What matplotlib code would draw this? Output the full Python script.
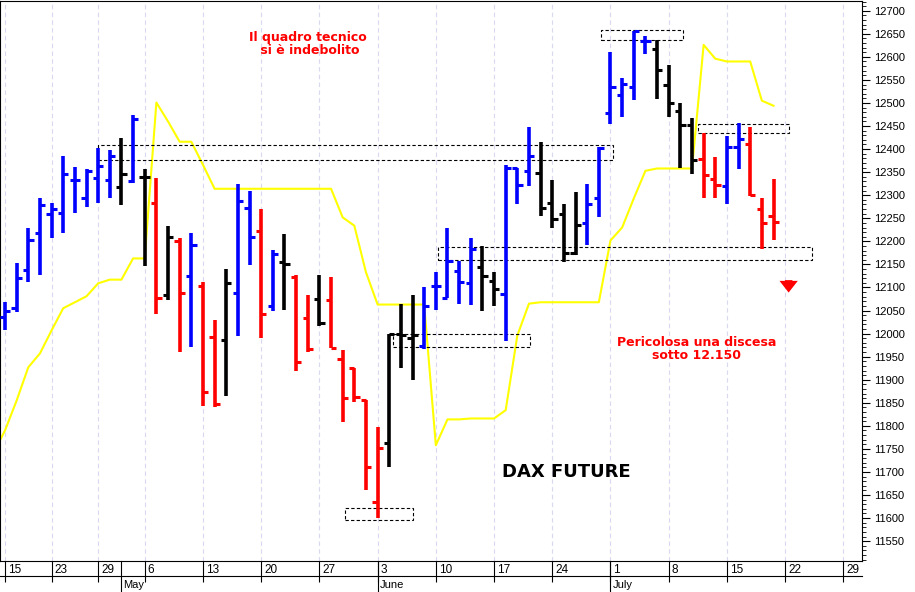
import matplotlib
matplotlib.use("Agg")
import matplotlib.pyplot as plt
import matplotlib.transforms as mtransforms
from matplotlib.patches import Rectangle
from matplotlib.ticker import MultipleLocator

plt.rcParams['font.family'] = ['Liberation Sans', 'DejaVu Sans']

highs = [12068,12152,12228,12295,12284,12386,12362,12356,12403,12399,
         12425,12475,12356,12338,12234,12208,12219,12111,12029,12141,
         12325,12310,12271,12182,12217,12126,12083,12126,12122,11964,
         11925,11855,11797,12000,12065,12083,12102,12133,12230,12158,
         12208,12189,12133,12366,12360,12447,12416,12334,12280,12308,
         12325,12405,12611,12555,12655,12646,12637,12583,12499,12468,
         12434,12382,12429,12457,12449,12295,12336]
lows = [12007,12046,12111,12126,12208,12219,12262,12275,12284,12295,
        12278,12327,12146,12042,12072,11961,11970,11844,11840,11864,
        11994,12148,11990,12048,12052,11920,11961,12016,11968,11808,
        11851,11660,11600,11710,11925,11899,11966,12052,12078,12065,
        12063,12048,12059,11985,12282,12321,12256,12230,12156,12171,
        12193,12252,12455,12470,12507,12607,12509,12470,12358,12345,
        12295,12293,12282,12356,12299,12184,12202]
opens = [12035,12055,12137,12219,12260,12262,12334,12295,12338,12332,
         12317,12330,12340,12284,12083,12200,12124,12104,11992,11987,
         12087,12273,12223,12059,12156,12122,12033,12076,12072,11946,
         11925,11855,11634,11762,12000,11990,11974,12104,12078,12135,
         12109,12145,12113,12085,12360,12353,12349,12284,12260,12174,
         12239,12293,12479,12518,12535,12635,12618,12538,12483,12453,
         12379,12336,12321,12405,12410,12271,12256]
closes = [12050,12120,12202,12278,12271,12347,12334,12353,12364,12386,
          12347,12466,12340,12078,12210,12089,12193,11873,11847,12109,
          12288,12210,12042,12172,12150,11938,11966,12022,11968,11860,
          11862,11710,11751,12000,11996,11996,12059,12104,12158,12111,
          12184,12124,12096,12360,12323,12386,12273,12249,12174,12236,
          12282,12403,12535,12542,12655,12635,12572,12501,12453,12377,
          12343,12323,12405,12423,12301,12239,12243]
colors = list("bbbbbbbbbbkbkrkrbrrkbbrbkrrkrrrrrkkkbbbbbkkbbbkkkkbbbbbbkkkkrrbbrrr")
yellow_x = [-0.43] + list(range(67))
yellow = [11769,11790,11855,11927,11957,12007,12055,12068,12081,12109,12117,
          12117,12163,12163,12501,12460,12416,12416,12366,12314,12314,
          12314,12314,12314,12314,12314,12314,12314,12314,12314,12252,12234,
          12133,12063,12063,12063,12063,12063,11758,11814,11814,11816,
          11816,11816,11834,11996,12065,12068,12068,12068,12068,12068,
          12068,12202,12230,12293,12353,12358,12358,12358,12358,12626,
          12596,12590,12590,12590,12505,12494]
# boxes: (x0, x1, y0, y1) in bar index / price
boxes = [(8.0, 52.2, 12377, 12408), (37.2, 69.3, 12159, 12187),
         (33.3, 45.1, 11972, 11999), (29.2, 35.0, 11595, 11621),
         (51.2, 58.2, 12637, 12659), (59.5, 67.3, 12434, 12455)]
tick_idx = [0,4,8,12,17,22,27,32,37,42,47,52,57,62,67,72]
tick_lbl = ["15","23","29","6","13","20","27","3","10","17","24","1","8","15","22","29"]
month_idx = [10,32,52]
month_lbl = ["May","June","July"]

cmap = {"b": "#0000ff", "r": "#ff0000", "k": "#000000"}

H = 592.0
ax_bottom = 31 / H
strip = 15 / H
fig = plt.figure(figsize=(9.15, 5.92), dpi=100)
ax = fig.add_axes([0.0, ax_bottom, 862 / 915, 1 - ax_bottom - 0.001])
ax.set_xlim(-0.43, 73.6)
ax.set_ylim(11507, 12722)

for x in tick_idx:
    ax.axvline(x, color="#d8d8f0", lw=0.8, ls=(0, (4, 3)), zorder=0)

ax.plot(yellow_x, yellow, color="#ffff00", lw=1.5, zorder=1)

tw = 0.45
for i in range(len(highs)):
    c = cmap[colors[i]]
    ax.vlines(i, lows[i], highs[i], color=c, lw=2.6, zorder=3)
    ax.hlines(opens[i], i - tw, i, color=c, lw=2.2, zorder=3)
    ax.hlines(closes[i], i, i + tw, color=c, lw=2.2, zorder=3)

for x0, x1, y0, y1 in boxes:
    ax.add_patch(Rectangle((x0, y0), x1 - x0, y1 - y0, fill=False, ec="black",
                           lw=0.8, ls=(0, (3, 2)), zorder=2))

ann = dict(color="#ff0000", fontsize=9, fontweight="bold", ha="center",
           va="center", family="DejaVu Sans")
ax.text(26.0, 12627, "Il quadro tecnico\n si è indebolito", linespacing=1.0, **ann)
ax.text(59.4, 11967, "Pericolosa una discesa\nsotto 12.150", linespacing=1.05, **ann)
ax.text(48.2, 11700, "DAX FUTURE", color="black", fontsize=13,
        fontweight="bold", ha="center", va="center", family="DejaVu Sans")
ax.annotate("", xy=(67.3, 12083), xytext=(67.3, 12122),
            arrowprops=dict(arrowstyle="simple,head_width=1.1,head_length=0.7,tail_width=0.45",
                            color="#ff0000", lw=0, mutation_scale=12))

ax.yaxis.tick_right()
ax.set_yticks(range(11550, 12701, 50))
ax.yaxis.set_minor_locator(MultipleLocator(10))
ax.tick_params(axis="y", which="major", labelsize=8, length=6, direction="out", pad=3)
ax.tick_params(axis="y", which="minor", length=3, direction="out")

ax.set_xticks(tick_idx)
ax.set_xticklabels(tick_lbl, fontsize=8.5)
ax.tick_params(axis="x", length=15, direction="out", width=0.8, pad=-13)
off = mtransforms.ScaledTranslation(3/100, 0, fig.dpi_scale_trans)
for lab in ax.get_xticklabels():
    lab.set_horizontalalignment("left")
    lab.set_transform(lab.get_transform() + off)

trans = mtransforms.blended_transform_factory(ax.transData, fig.transFigure)
for x, m in zip(month_idx, month_lbl):
    ax.plot([x, x], [0, ax_bottom], color="black", lw=0.8, transform=trans, clip_on=False)
    fig.text(x, 0.004, m, fontsize=8, ha="left", va="bottom",
             transform=trans + mtransforms.ScaledTranslation(2/100, 0, fig.dpi_scale_trans))
fig.add_artist(plt.Line2D([0, 862 / 915], [ax_bottom - strip, ax_bottom - strip],
                          color="black", lw=0.8))

for s in ax.spines.values():
    s.set_linewidth(0.8)

fig.savefig("out.png", dpi=100)
